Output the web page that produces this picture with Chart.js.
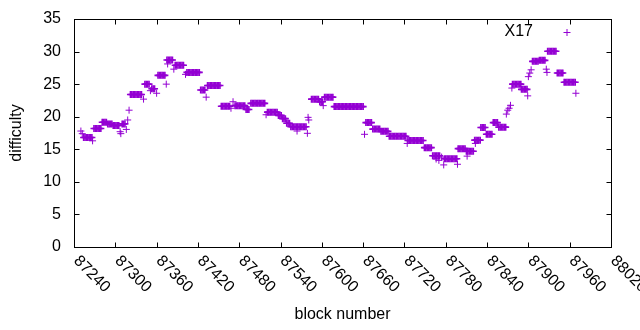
<!DOCTYPE html>
<html>
<head>
<meta charset="utf-8">
<script src="https://cdn.jsdelivr.net/npm/chart.js@4.4.1/dist/chart.umd.min.js"></script>
<style>
  body { margin: 0; background: #fff; }
</style>
</head>
<body>
<canvas id="chart" width="640" height="330"></canvas>
<script>
const seriesName = "X17";
const xTitle = "block number";
const yTitle = "difficulty";
const xTicks = [87240, 87300, 87360, 87420, 87480, 87540, 87600, 87660, 87720, 87780, 87840, 87900, 87960, 88020];
const yTicks = [0, 5, 10, 15, 20, 25, 30, 35];

// [block, difficulty]
const x17 = [
  [87250, 17.8], [87252, 17.4],
  [87254, 16.8], [87256, 16.8], [87258, 16.8], [87260, 16.8], [87262, 16.8], [87264, 16.8], [87266, 16.8],
  [87267, 16.3],
  [87269, 18.2], [87271, 18.2], [87273, 18.2], [87275, 18.2], [87277, 18.2], [87279, 18.2],
  [87281, 19.15], [87283, 19.15], [87285, 19.15], [87287, 19.15],
  [87289, 18.9], [87291, 18.9], [87293, 18.9], [87295, 18.9],
  [87297, 18.65], [87299, 18.65], [87301, 18.65], [87303, 18.65], [87305, 18.65],
  [87307, 17.7], [87308, 17.4],
  [87310, 18.9], [87312, 18.9], [87314, 18.9],
  [87316, 18.05], [87318, 19.5], [87320, 21.0],
  [87322, 23.4], [87324, 23.4], [87326, 23.4], [87328, 23.4], [87330, 23.4], [87332, 23.4], [87334, 23.4], [87336, 23.4], [87338, 23.4],
  [87341, 22.7],
  [87343, 25.0], [87345, 25.0], [87347, 25.0], [87349, 25.0],
  [87351, 24.0],
  [87353, 24.3], [87355, 24.3], [87357, 24.3],
  [87360, 23.6],
  [87362, 26.35], [87364, 26.35], [87366, 26.35], [87368, 26.35], [87370, 26.35], [87372, 26.35],
  [87374, 25.0],
  [87375, 28.7], [87377, 28.7], [87379, 28.7], [87381, 28.7], [87383, 28.7],
  [87376, 28.1], [87385, 27.3],
  [87387, 27.9], [87389, 27.9], [87391, 27.9], [87393, 27.9], [87395, 27.9], [87397, 27.9], [87399, 27.9],
  [87402, 26.5],
  [87404, 26.8], [87406, 26.8], [87408, 26.8], [87410, 26.8], [87412, 26.8], [87414, 26.8], [87416, 26.8], [87418, 26.8], [87420, 26.8], [87422, 26.8],
  [87424, 24.1], [87426, 24.1], [87428, 24.1], [87430, 24.1],
  [87432, 23.0],
  [87434, 24.8], [87436, 24.8], [87438, 24.8], [87440, 24.8], [87442, 24.8], [87444, 24.8], [87446, 24.8], [87448, 24.8], [87450, 24.8], [87452, 24.8],
  [87454, 21.6], [87456, 21.6], [87458, 21.6], [87460, 21.6], [87462, 21.6], [87464, 21.6], [87466, 21.6],
  [87468, 21.3], [87471, 22.3],
  [87474, 21.7], [87476, 21.7], [87478, 21.7], [87480, 21.7], [87482, 21.7], [87484, 21.7], [87486, 21.7], [87488, 21.7],
  [87490, 21.1], [87492, 21.1], [87494, 21.1],
  [87497, 22.05], [87499, 22.05], [87501, 22.05], [87503, 22.05], [87505, 22.05], [87507, 22.05], [87509, 22.05], [87511, 22.05], [87513, 22.05], [87515, 22.05], [87517, 22.05],
  [87519, 20.3],
  [87521, 20.7], [87523, 20.7], [87525, 20.7], [87527, 20.7], [87529, 20.7], [87531, 20.7], [87533, 20.7], [87535, 20.7],
  [87537, 20.2], [87539, 20.2], [87541, 20.2],
  [87543, 19.7], [87545, 19.7], [87547, 19.7],
  [87549, 19.0], [87551, 19.0], [87553, 19.0],
  [87555, 18.45], [87557, 18.45], [87559, 18.45], [87561, 18.45], [87563, 18.45], [87565, 18.45], [87567, 18.45], [87569, 18.45], [87571, 18.45], [87573, 18.45], [87575, 18.45], [87577, 18.45],
  [87564, 17.8], [87579, 17.45],
  [87580, 19.9], [87581, 19.5],
  [87585, 22.7], [87587, 22.7], [87589, 22.7], [87591, 22.7], [87593, 22.7], [87595, 22.7],
  [87597, 22.3], [87599, 22.3], [87601, 22.3],
  [87602, 21.7],
  [87604, 23.0], [87606, 23.0], [87608, 23.0], [87610, 23.0], [87612, 23.0], [87614, 23.0], [87616, 23.0],
  [87618, 21.55], [87620, 21.55], [87622, 21.55], [87624, 21.55], [87626, 21.55], [87628, 21.55], [87630, 21.55], [87632, 21.55],
  [87634, 21.55], [87636, 21.55], [87638, 21.55], [87640, 21.55], [87642, 21.55], [87644, 21.55], [87646, 21.55], [87648, 21.55],
  [87650, 21.55], [87652, 21.55], [87654, 21.55], [87656, 21.55], [87658, 21.55], [87660, 21.55],
  [87662, 17.3],
  [87664, 19.1], [87666, 19.1], [87668, 19.1], [87670, 19.1], [87672, 19.1],
  [87674, 18.1], [87676, 18.1], [87678, 18.1], [87680, 18.1], [87682, 18.1], [87684, 18.1],
  [87686, 17.75], [87688, 17.75], [87690, 17.75], [87692, 17.75], [87694, 17.75], [87696, 17.75],
  [87698, 17.0], [87700, 17.0], [87702, 17.0], [87704, 17.0], [87706, 17.0], [87708, 17.0], [87710, 17.0],
  [87712, 17.0], [87714, 17.0], [87716, 17.0], [87718, 17.0], [87720, 17.0], [87722, 17.0],
  [87724, 15.9],
  [87725, 16.35], [87727, 16.35], [87729, 16.35], [87731, 16.35], [87733, 16.35], [87735, 16.35],
  [87737, 16.35], [87739, 16.35], [87741, 16.35], [87743, 16.35], [87745, 16.35], [87747, 16.35],
  [87749, 15.25], [87751, 15.25], [87753, 15.25], [87755, 15.25], [87757, 15.25], [87759, 15.25],
  [87761, 14.0], [87763, 14.0], [87765, 14.0], [87767, 14.0], [87769, 14.0], [87771, 14.0],
  [87766, 13.5], [87770, 13.3],
  [87774, 13.8], [87777, 12.6],
  [87778, 13.55], [87780, 13.55], [87782, 13.55], [87784, 13.55], [87786, 13.55], [87788, 13.55], [87790, 13.55], [87792, 13.55], [87794, 13.55], [87796, 13.55],
  [87797, 12.7],
  [87798, 15.1], [87800, 15.1], [87802, 15.1], [87804, 15.1], [87806, 15.1], [87808, 15.1],
  [87810, 14.7], [87812, 14.7], [87814, 14.7], [87816, 14.7], [87818, 14.7], [87820, 14.7],
  [87811, 13.95],
  [87822, 16.4], [87824, 16.4], [87826, 16.4], [87828, 16.4], [87830, 16.4],
  [87823, 15.9],
  [87831, 18.35], [87833, 18.35], [87835, 18.35], [87837, 18.35],
  [87839, 17.3], [87841, 17.3], [87843, 17.3], [87845, 17.3], [87847, 17.3],
  [87849, 19.1], [87851, 19.1], [87853, 19.1], [87855, 19.1],
  [87857, 18.4], [87859, 18.4], [87861, 18.4], [87863, 18.4], [87865, 18.4], [87867, 18.4],
  [87868, 20.4], [87870, 21.0], [87872, 21.3], [87874, 21.75],
  [87876, 24.4],
  [87877, 25.0], [87879, 25.0], [87881, 25.0], [87883, 25.0], [87885, 25.0], [87887, 25.0], [87889, 25.0],
  [87890, 24.2], [87892, 24.2], [87894, 24.2], [87896, 24.2], [87898, 24.2],
  [87899, 23.2], [87900, 26.15], [87902, 26.7], [87904, 27.2],
  [87906, 28.5], [87908, 28.5], [87910, 28.5], [87912, 28.5], [87914, 28.5],
  [87916, 28.65], [87918, 28.65], [87920, 28.65], [87922, 28.65], [87924, 28.65],
  [87926, 27.3], [87927, 26.8],
  [87928, 30.05], [87930, 30.05], [87932, 30.05], [87934, 30.05], [87936, 30.05], [87938, 30.05], [87940, 30.05],
  [87942, 26.7], [87944, 26.7], [87946, 26.7], [87948, 26.7], [87950, 26.7],
  [87952, 25.3], [87954, 25.3], [87956, 25.3], [87958, 25.3], [87960, 25.3], [87962, 25.3], [87964, 25.3], [87966, 25.3], [87968, 25.3],
  [87969, 23.6],
];

const purple = "#9400d3";
const font = '16px "Liberation Sans", Arial, sans-serif';

// points sitting in a run of equal values get a heavier stroke so the run reads solid
const inRun = x17.map(p => x17.some(q => q !== p && q[1] === p[1] && Math.abs(q[0] - p[0]) <= 2));

// gnuplot style frame: border, inward ticks, rotated x labels, key
const frame = {
  id: "frame",
  afterDraw(chart) {
    const ctx = chart.ctx;
    const a = chart.chartArea;
    const x = chart.scales.x;
    const y = chart.scales.y;
    const L = Math.round(a.left) + 0.5, R = Math.round(a.right) + 0.5;
    const T = Math.round(a.top) + 0.5, B = Math.round(a.bottom) + 0.5;
    ctx.save();
    ctx.strokeStyle = "#000";
    ctx.lineWidth = 1;
    ctx.strokeRect(L, T, R - L, B - T);
    ctx.beginPath();
    xTicks.forEach(v => {
      const px = Math.round(x.getPixelForValue(v)) + 0.5;
      ctx.moveTo(px, B); ctx.lineTo(px, B - 5);
      ctx.moveTo(px, T); ctx.lineTo(px, T + 5);
    });
    yTicks.forEach(v => {
      const py = Math.round(y.getPixelForValue(v)) + 0.5;
      ctx.moveTo(L, py); ctx.lineTo(L + 5, py);
      ctx.moveTo(R, py); ctx.lineTo(R - 5, py);
    });
    ctx.stroke();

    ctx.fillStyle = "#000";
    ctx.font = font;
    ctx.textAlign = "right";
    ctx.textBaseline = "middle";
    yTicks.forEach(v => ctx.fillText(String(v), 61, y.getPixelForValue(v)));

    ctx.textAlign = "left";
    xTicks.forEach(v => {
      ctx.save();
      ctx.translate(x.getPixelForValue(v) + 2, B + 11);
      ctx.rotate(Math.PI / 4);
      ctx.fillText(String(v), 0, 0);
      ctx.restore();
    });

    ctx.textAlign = "center";
    ctx.fillText(xTitle, (a.left + a.right) / 2, 315);
    ctx.save();
    ctx.translate(17, (a.top + a.bottom) / 2);
    ctx.rotate(-Math.PI / 2);
    ctx.fillText(yTitle, 0, 0);
    ctx.restore();

    // key
    ctx.textAlign = "right";
    ctx.fillText(chart.data.datasets[0].label, 533, 32);
    ctx.strokeStyle = purple;
    ctx.beginPath();
    ctx.moveTo(563.5, 32.5); ctx.lineTo(570.5, 32.5);
    ctx.moveTo(567, 29); ctx.lineTo(567, 36);
    ctx.stroke();
    ctx.restore();
  }
};

new Chart(document.getElementById("chart"), {
  type: "scatter",
  data: {
    datasets: [{
      label: seriesName,
      data: x17.map(p => ({ x: p[0], y: p[1] })),
      pointStyle: "cross",
      pointRadius: 3.5,
      pointHoverRadius: 3.5,
      borderWidth: (c) => (inRun[c.dataIndex] ? 1.6 : 1),
      borderColor: purple,
      backgroundColor: purple,
    }],
  },
  options: {
    responsive: false,
    animation: false,
    devicePixelRatio: 1,
    layout: { padding: { top: 19, right: 29, left: 0, bottom: 0 } },
    plugins: { legend: { display: false }, tooltip: { enabled: false } },
    scales: {
      x: {
        type: "linear",
        min: 87240,
        max: 88020,
        grid: { display: false },
        border: { display: false },
        ticks: { display: false },
        afterFit: (s) => { s.height = 83; },
      },
      y: {
        min: 0,
        max: 35,
        grid: { display: false },
        border: { display: false },
        ticks: { display: false },
        afterFit: (s) => { s.width = 74; },
      },
    },
  },
  plugins: [frame],
});
</script>
</body>
</html>
